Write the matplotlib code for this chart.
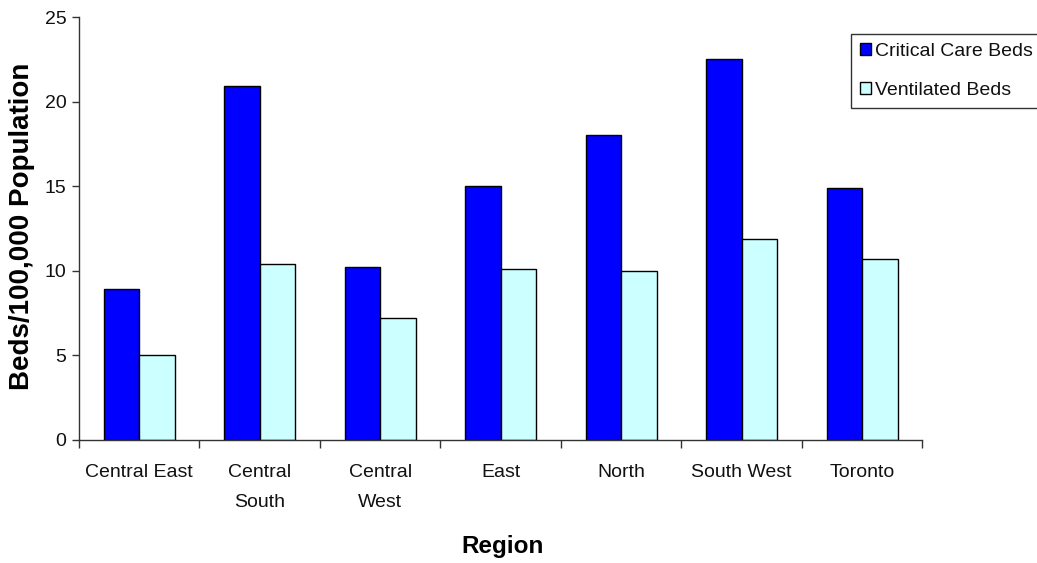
import matplotlib
matplotlib.use("Agg")
import matplotlib.pyplot as plt
import numpy as np

plt.rcParams['font.family'] = ['Liberation Sans', 'DejaVu Sans']

regions = ["Central East", "Central\nSouth", "Central\nWest", "East", "North", "South West", "Toronto"]
critical_care = [8.9, 20.9, 10.2, 15.0, 18.0, 22.5, 14.9]
ventilated = [5.0, 10.4, 7.2, 10.1, 10.0, 11.9, 10.7]
y_ticks = [0, 5, 10, 15, 20, 25]

W, H = 1037, 563
fig = plt.figure(figsize=(W / 100, H / 100), dpi=100)
ax = fig.add_axes([79 / W, 1 - 440 / H, (922.5 - 79) / W, (440 - 17) / H])

x = np.arange(len(regions)) + 0.5
bw = 0.296
b1 = ax.bar(x - bw / 2, critical_care, bw, color='#0000FF', edgecolor='black', linewidth=1.0,
            label='Critical Care Beds')
b2 = ax.bar(x + bw / 2, ventilated, bw, color='#CCFFFF', edgecolor='black', linewidth=1.0,
            label='Ventilated Beds')

ax.set_xlim(0, len(regions))
ax.set_ylim(0, 25)
ax.set_yticks(y_ticks)
ax.tick_params(axis='y', labelsize=14, length=5, width=1, pad=4, colors='#333333',
               labelcolor='#111111')

# category boundaries carry the tick marks, labels sit at the centres
ax.set_xticks(np.arange(len(regions) + 1))
ax.set_xticklabels([])
ax.set_xticks(x, minor=True)
ax.set_xticklabels(regions, minor=True, fontsize=14, linespacing=2.0)
ax.tick_params(axis='x', which='major', length=6, width=1, colors='#333333')
ax.tick_params(axis='x', which='minor', length=0, pad=17.5, labelcolor='#111111')

for s in ['top', 'right']:
    ax.spines[s].set_visible(False)
for s in ['left', 'bottom']:
    ax.spines[s].set_color('#333333')
    ax.spines[s].set_linewidth(1.0)

fig.text(22 / W, 1 - 226 / H, 'Beds/100,000 Population', rotation=90, ha='center', va='center',
         fontsize=20, fontweight='bold')
fig.text(503 / W, 1 - 546 / H, 'Region', ha='center', va='center', fontsize=17.5, fontweight='bold')

leg = fig.legend(handles=[b1, b2], loc='upper left', bbox_to_anchor=(851 / W, 1 - 34 / H),
                 bbox_transform=fig.transFigure, fontsize=14, frameon=True, fancybox=False,
                 edgecolor='black', borderaxespad=0, borderpad=0.45, handlelength=0.6,
                 handleheight=0.6, handletextpad=0.2, labelspacing=1.15)
leg.get_frame().set_linewidth(1.0)
for t in leg.get_texts():
    t.set_color('#111111')

fig.savefig('out.png', dpi=100)
